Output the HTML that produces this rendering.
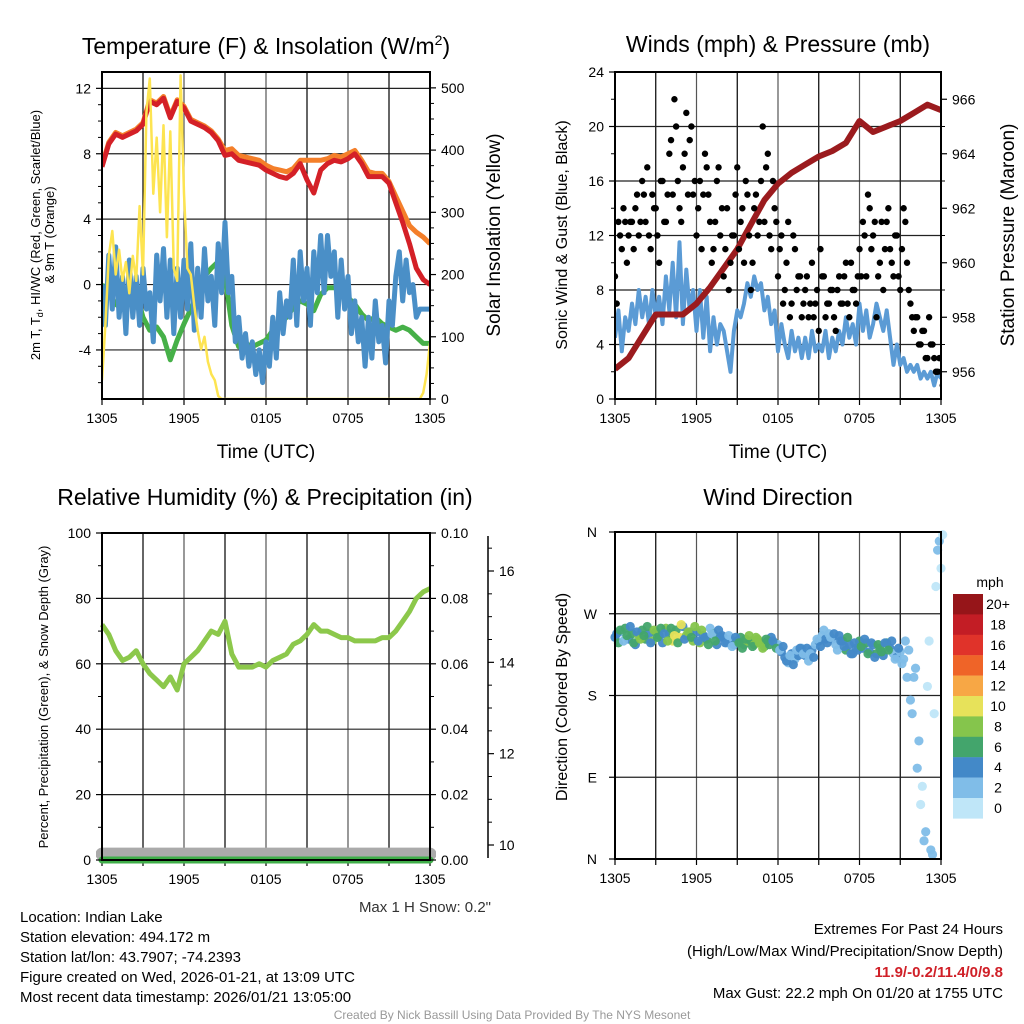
<!DOCTYPE html>
<html><head><meta charset="utf-8"><style>
body{margin:0;background:#fff;}
svg{display:block;font-family:"Liberation Sans",sans-serif;}
</style></head><body>
<svg id="s" width="1024" height="1024" viewBox="0 0 1024 1024" xmlns="http://www.w3.org/2000/svg">
<defs>
<clipPath id="c1"><rect x="102" y="72" width="328" height="327"/></clipPath>
<clipPath id="c2"><rect x="615" y="72" width="326" height="327"/></clipPath>
<clipPath id="c3"><rect x="96" y="533" width="340" height="335"/></clipPath>
<clipPath id="c4"><rect x="605" y="525" width="346" height="340"/></clipPath>
</defs>
<g id="g1"></g>
<g id="g2"></g>
<g id="g3"></g>
<g id="g4"></g>
<g font-size="23" text-anchor="middle">
<text x="266" y="54">Temperature (F) &amp; Insolation (W/m<tspan font-size="14" dy="-9">2</tspan><tspan dy="9">)</tspan></text>
<text x="778" y="52">Winds (mph) &amp; Pressure (mb)</text>
<text x="265" y="505">Relative Humidity (%) &amp; Precipitation (in)</text>
<text x="778" y="505">Wind Direction</text>
</g>
<g font-size="19" text-anchor="middle">
<text x="266" y="458">Time (UTC)</text>
<text x="778" y="458">Time (UTC)</text>
<text transform="translate(40,235) rotate(-90)" font-size="13">2m T, T<tspan font-size="9" dy="3">d</tspan><tspan dy="-3">, HI/WC (Red, Green, Scarlet/Blue)</tspan></text>
<text transform="translate(54,235) rotate(-90)" font-size="13">&amp; 9m T (Orange)</text>
<text transform="translate(500,235) rotate(-90)">Solar Insolation (Yellow)</text>
<text transform="translate(567,235) rotate(-90)" font-size="16">Sonic Wind &amp; Gust (Blue, Black)</text>
<text transform="translate(1014,235) rotate(-90)">Station Pressure (Maroon)</text>
<text transform="translate(48,697) rotate(-90)" font-size="13">Percent, Precipitation (Green), &amp; Snow Depth (Gray)</text>
<text transform="translate(567,697) rotate(-90)" font-size="16">Direction (Colored By Speed)</text>
</g>
<g font-size="15">
<text x="491" y="912" text-anchor="end" fill="#333">Max 1 H Snow: 0.2"</text>
<text x="20" y="922">Location: Indian Lake</text>
<text x="20" y="942">Station elevation: 494.172 m</text>
<text x="20" y="962">Station lat/lon: 43.7907; -74.2393</text>
<text x="20" y="982">Figure created on Wed, 2026-01-21, at 13:09 UTC</text>
<text x="20" y="1002">Most recent data timestamp: 2026/01/21 13:05:00</text>
<text x="1003" y="934" text-anchor="end">Extremes For Past 24 Hours</text>
<text x="1003" y="956" text-anchor="end">(High/Low/Max Wind/Precipitation/Snow Depth)</text>
<text x="1003" y="977" text-anchor="end" fill="#d02028" font-weight="bold">11.9/-0.2/11.4/0/9.8</text>
<text x="1003" y="998" text-anchor="end">Max Gust: 22.2 mph On 01/20 at 1755 UTC</text>
<text x="512" y="1019" text-anchor="middle" font-size="12" fill="#999">Created By Nick Bassill Using Data Provided By The NYS Mesonet</text>
</g>
</svg>
<script>
const xTickLabels = ["1305","1905","0105","0705","1305"];
// half-hourly (49 pts)
const tempRed = [7.2,8.6,9.2,9.0,9.2,9.4,9.8,11.2,11.0,11.4,10.2,11.2,10.8,10.0,9.8,9.6,9.3,8.8,7.9,8.0,7.6,7.5,7.4,7.3,7.0,6.8,6.6,6.5,6.8,7.4,6.4,5.6,7.0,7.4,7.6,7.5,7.7,8.0,7.4,6.6,6.6,6.6,6.2,5.0,3.8,2.5,1.0,0.3,0.0];
const tempOrange = [7.3,8.7,9.3,9.1,9.3,9.5,9.9,11.3,11.1,11.5,10.3,11.3,10.9,10.1,9.9,9.7,9.4,8.9,8.2,8.3,7.9,7.8,7.7,7.6,7.3,7.1,7.0,6.9,7.1,7.6,7.6,7.6,7.6,7.7,7.9,7.8,8.0,8.2,7.6,6.9,6.8,6.8,6.3,5.4,4.5,3.6,3.2,2.9,2.5];
const dewGreen = [0,-0.5,-1.2,-1.5,-1.0,-0.5,-2.0,-2.8,-2.6,-3.2,-4.6,-3.4,-2.4,-1.5,-0.5,0.5,1.0,1.4,0.5,-2.5,-3.8,-3.6,-3.8,-3.6,-3.4,-2.8,-2.4,-2.0,-1.4,-1.0,-1.2,-1.6,-0.6,-0.2,-0.2,-0.4,-0.8,-1.2,-1.8,-2.2,-2.0,-2.4,-2.6,-2.8,-2.6,-2.8,-3.2,-3.6,-3.6];
const rhValues = [72,69,64,61,62,64,60,57,55,53,56,52,60,62,64,67,70,69,73,63,59,59,59,60,59,61,62,63,66,67,69,72,70,70,69,68,68,67,67,67,67,68,68,70,73,76,80,82,83];
// quarter-hourly (97 pts)
const windChillBlue = [0.0,-2.5,1.8,-1.5,2.3,-2.0,0.5,-3.0, 1.5,-2.0,0.5,-2.5,1.0,-1.5,-0.5,-3.5, 1.8,-1.0,2.2,-2.0,1.5,-3.0,1.0,-2.0, 1.5,-1.5,2.5,-2.8,1.0,-2.0,2.2,-1.0, 0.5,-2.5,2.5,-0.5,3.8,-0.5,0.5,-3.5, -2.0,-4.5,-3.0,-5.0,-3.5,-5.5,-4.0,-6.0, -3.5,-5.0,-2.0,-4.5,-0.5,-3.0,-1.0,-2.0, 1.5,-2.5,2.0,-1.0,1.0,-2.5,2.0,-0.5, 3.0,-0.5,3.0,0.5,2.0,-2.0,1.5,-1.5, 0.5,-3.0,-1.0,-3.5,-2.0,-5.0,-2.0,-4.5, -1.0,-3.5,-2.5,-4.8,-1.0,-2.5,0.5,2.0, -1.0,1.5,-0.5,0.0,-2.0,-1.5,-1.5,-1.5,-1.5];
const insolation = [30,120,230,270,200,240,190,220, 170,230,190,310,200,460,515,330, 420,300,440,260,430,210,190,520, 330,210,200,150,110,80,100,60, 40,30,5,0,0,0,0,0, 0,0,0,0,0,0,0,0, 0,0,0,0,0,0,0,0, 0,0,0,0,0,0,0,0, 0,0,0,0,0,0,0,0, 0,0,0,0,0,0,0,0, 0,0,0,0,0,0,0,0, 0,0,0,0,0,0,10,40,90];
const windSpeed = [4.5,6.5,3.5,6.0,5.0,7.0,5.5,8.0, 6.0,7.5,5.5,8.0,6.0,7.5,5.5,9.0, 6.5,10.0,6.0,11.5,5.5,9.5,6.5,8.0, 5.0,8.0,4.5,7.5,3.5,6.0,4.0,5.5, 5.0,3.5,2.0,5.0,6.5,6.0,7.0,8.5, 7.5,9.0,8.0,8.5,6.5,7.5,5.5,6.5, 3.5,5.5,4.0,3.0,5.0,3.5,4.5,3.0, 4.5,3.0,5.0,3.5,4.0,3.5,5.0,3.0, 4.5,3.5,5.0,4.0,6.0,4.5,5.5,4.0, 7.0,5.0,6.5,4.5,5.5,7.0,6.0,5.0, 6.5,4.5,2.5,4.0,2.5,3.0,2.0,2.5, 2.0,2.5,1.5,2.0,1.5,2.0,1.0,2.0,1.5];
const windGust = [9,13,11,13,12,13,14,12, 16,13,12,15,14,10,16,13, 18,15,20,14,17,21,19,15, 12,16,15,17,13,11,16,12, 9,14,10,12,17,13,10,15, 8,14,12,16,13,18,11,14, 9,12,8,13,7,11,9,6, 8,6,10,7,5,9,6,7, 8,5,9,7,10,6,8,7, 11,13,9,14,12,6,10,8, 13,11,9,12,8,14,10,7, 5,6,4,5,3,4,3,2,2];
// second gust sample, offset 7.5 min
const windGustB = [7,12,14,10,13,11,15,13, 15,17,11,14,12,16,13,15, 19,22,16,13,18,15,20,16, 14,11,18,15,10,13,17,14, 11,8,12,15,11,14,16,12, 10,15,13,20,17,12,16,13, 11,7,10,6,12,8,9,7, 9,7,6,8,11,9,7,8, 6,8,7,9,7,10,8,9, 9,12,15,11,13,9,13,11, 14,10,12,9,11,13,8,6, 6,4,5,3,6,4,2,3,1];
const windDir = [244,238,250,254,242,248,236,246, 252,242,248,240,250,246,238,254, 248,240,252,244,256,246,250,240, 250,238,246,242,254,248,236,244, 244,238,242,236,240,244,236,240, 240,236,242,238,234,240,244,238, 236,228,222,216,226,220,224,232, 224,218,230,236,240,246,242,248, 242,236,246,240,230,236,226,232, 240,232,238,228,236,226,232,224, 238,232,226,222,228,220,200,175, 200,100,60,20,190,10,160,340,320];
const windDirB = [248,252,240,246,256,238,250,242, 246,256,238,252,244,254,248,240, 254,246,238,258,242,250,244,256, 240,252,244,236,248,240,252,246, 238,246,234,244,238,232,242,246, 234,244,238,232,242,236,240,232, 230,234,218,224,214,230,232,226, 232,226,222,242,234,252,238,244, 248,230,240,234,244,226,238,230, 234,242,226,238,222,236,228,238, 230,240,220,232,215,240,230,160, 210,130,80,30,240,5,300,350,357];
// hourly (25 pts)
const pressure = [956.1,956.5,957.3,958.1,958.1,958.1,958.5,959.1,959.8,960.5,961.4,962.3,962.9,963.3,963.6,963.9,964.1,964.4,965.2,964.8,965.0,965.2,965.5,965.8,965.6];
const snowDepth = [9.8,9.8,9.8,9.8,9.8,9.8,9.8,9.8,9.8,9.8,9.8,9.8,9.8,9.8,9.8,9.8,9.8,9.8,9.8,9.8,9.8,9.8,9.8,9.8,9.8];
const precip = [0,0,0,0,0,0,0,0,0,0,0,0,0,0,0,0,0,0,0,0,0,0,0,0,0];
const speedBins = ["0","2","4","6","8","10","12","14","16","18","20+"];
const speedColors = ["#bfe6f8","#80bde8","#4389c8","#43a56c","#85c54c","#e7e25a","#f7a745","#ef6428","#e0332a","#c31d25","#961519"];

const NS="http://www.w3.org/2000/svg";
function mk(parent,tag,attrs,name){const e=document.createElementNS(NS,tag);for(const k in attrs)e.setAttribute(k,attrs[k]);


parent.appendChild(e);return e;}
function lin(d0,d1,r0,r1){return v=>r0+(v-d0)*(r1-r0)/(d1-d0);}
function pathFrom(arr,step,xs,ys){return arr.map((v,i)=>(i?'L':'M')+xs(i*step).toFixed(1)+' '+ys(v).toFixed(1)).join(' ');}

function frame(g,x0,x1,y0,y1,gridY,name){
  const xs=lin(0,24,x0,x1);
  for(let h=3;h<24;h+=3){mk(g,'line',{x1:xs(h),x2:xs(h),y1:y0,y2:y1,stroke:(h%6?'#000':'#555'),'stroke-width':1.2},'grid-vertical');}
  gridY.forEach(y=>{mk(g,'line',{x1:x0,x2:x1,y1:y,y2:y,stroke:'#222','stroke-width':1.2},'grid-horizontal');});
  for(let h=0;h<=24;h+=3){mk(g,'line',{x1:xs(h),x2:xs(h),y1:y1,y2:y1+6,stroke:'#000','stroke-width':1.2},'x-tick');}
  xTickLabels.forEach((l,i)=>{const t=mk(g,'text',{x:xs(i*6),y:y1+24,'text-anchor':'middle','font-size':14},'x-tick-label');t.textContent=l;});
  return xs;
}
function border(g,x0,x1,y0,y1){mk(g,'rect',{x:x0,y:y0,width:x1-x0,height:y1-y0,fill:'none',stroke:'#000','stroke-width':2},'plot-border');}
function yTicks(g,x,side,vals,ys,fmt,len,minor){
  vals.forEach(v=>{const y=ys(v);mk(g,'line',{x1:x,x2:x+side*len,y1:y,y2:y,stroke:'#000','stroke-width':1.2},'y-tick');
    const t=mk(g,'text',{x:x+side*(len+5),y:y+5,'text-anchor':side<0?'end':'start','font-size':14},'y-tick-label');t.textContent=fmt(v);});
  if(minor) minor.forEach(v=>{const y=ys(v);mk(g,'line',{x1:x,x2:x+side*4,y1:y,y2:y,stroke:'#000','stroke-width':1},'y-minor-tick');});
}

// ---------- Panel 1
(function(){
  const g=document.getElementById('g1');
  const x0=102,x1=430,y0=72,y1=399;
  const yl=lin(-7,13,y1,y0), yr=lin(0,525.5,y1,y0);
  const xs=frame(g,x0,x1,y0,y1,[-4,0,4,8,12].map(yl));
  const p=mk(g,'g',{'clip-path':'url(#c1)'},'temperature-series');
  mk(p,'path',{d:pathFrom(tempOrange,0.5,xs,yl),fill:'none',stroke:'#f47f2a','stroke-width':5,'stroke-linejoin':'round'},'9m-temperature-line');
  mk(p,'path',{d:pathFrom(tempRed,0.5,xs,yl),fill:'none',stroke:'#d42027','stroke-width':5,'stroke-linejoin':'round'},'2m-temperature-line');
  mk(p,'path',{d:pathFrom(dewGreen,0.5,xs,yl),fill:'none',stroke:'#46b048','stroke-width':5,'stroke-linejoin':'round'},'dewpoint-line');
  mk(p,'path',{d:pathFrom(windChillBlue,0.25,xs,yl),fill:'none',stroke:'#4a8fc7','stroke-width':5,'stroke-linejoin':'round'},'wind-chill-line');
  mk(p,'path',{d:pathFrom(insolation,0.25,xs,yr),fill:'none',stroke:'#fde451','stroke-width':2.5,'stroke-linejoin':'round'},'insolation-line');
  border(g,x0,x1,y0,y1);
  yTicks(g,x0,-1,[-4,0,4,8,12],yl,v=>v,6,[-6,-5,-3,-2,-1,1,2,3,5,6,7,9,10,11]);
  yTicks(g,x1,1,[0,100,200,300,400,500],yr,v=>v,6,[25,50,75,125,150,175,225,250,275,325,350,375,425,450,475]);
})();

// ---------- Panel 2
(function(){
  const g=document.getElementById('g2');
  const x0=615,x1=941,y0=72,y1=399;
  const yl=lin(0,24,y1,y0), yr=lin(955,967,y1,y0);
  const xs=frame(g,x0,x1,y0,y1,[4,8,12,16,20].map(yl));
  const p=mk(g,'g',{'clip-path':'url(#c2)'},'wind-series');
  mk(p,'path',{d:pathFrom(windSpeed,0.25,xs,yl),fill:'none',stroke:'#5b9bd5','stroke-width':4,'stroke-linejoin':'round'},'wind-speed-line');
  mk(p,'path',{d:pathFrom(pressure,1,xs,yr),fill:'none',stroke:'#9b1b1e','stroke-width':6,'stroke-linejoin':'round'},'pressure-line');
  windGust.forEach((v,i)=>{mk(p,'circle',{cx:xs(i*0.25),cy:yl(v),r:3.2,fill:'#000'},'gust-dot');});
  windGustB.forEach((v,i)=>{mk(p,'circle',{cx:xs(i*0.25+0.125),cy:yl(v),r:3.2,fill:'#000'},'gust-dot');});
  border(g,x0,x1,y0,y1);
  yTicks(g,x0,-1,[0,4,8,12,16,20,24],yl,v=>v,6,[2,6,10,14,18,22]);
  yTicks(g,x1,1,[956,958,960,962,964,966],yr,v=>v,6,[957,959,961,963,965]);
})();

// ---------- Panel 3
(function(){
  const g=document.getElementById('g3');
  const x0=102,x1=430,y0=533,y1=860;
  const yl=lin(0,100,y1,y0), yr=lin(0,0.1,y1,y0), ys=lin(10,16,845,571);
  const xs=frame(g,x0,x1,y0,y1,[20,40,60,80].map(yl));
  const p=mk(g,'g',{'clip-path':'url(#c3)'},'humidity-series');
  mk(p,'path',{d:pathFrom(snowDepth,1,xs,ys),fill:'none',stroke:'#aaa','stroke-width':13,'stroke-linecap':'round'},'snow-depth-line');
  mk(p,'path',{d:pathFrom(precip,1,xs,yr),fill:'none',stroke:'#3fae49','stroke-width':7,'stroke-linecap':'round'},'precipitation-line');
  mk(p,'path',{d:pathFrom(rhValues,0.5,xs,yl),fill:'none',stroke:'#8cc84b','stroke-width':5,'stroke-linejoin':'round'},'humidity-line');
  border(g,x0,x1,y0,y1);
  yTicks(g,x0,-1,[0,20,40,60,80,100],yl,v=>v,6,[10,30,50,70,90]);
  yTicks(g,x1,1,[0,0.02,0.04,0.06,0.08,0.1],yr,v=>v.toFixed(2),6,[0.01,0.03,0.05,0.07,0.09]);
  mk(g,'line',{x1:488,x2:488,y1:536,y2:858,stroke:'#000','stroke-width':1.5},'snow-axis-line');
  yTicks(g,488,1,[10,12,14,16],ys,v=>v,6,[10.5,11,11.5,12.5,13,13.5,14.5,15,15.5,16.5]);
})();

// ---------- Panel 4
(function(){
  const g=document.getElementById('g4');
  const x0=615,x1=941,y0=532,y1=859;
  const yl=lin(0,360,y1,y0);
  const xs=frame(g,x0,x1,y0,y1,[90,180,270].map(yl));
  const p=mk(g,'g',{'clip-path':'url(#c4)'},'direction-series');
  function dot(t,d,s){const b=Math.min(10,Math.floor(s/2));
    mk(p,'circle',{cx:xs(t),cy:yl(d),r:4.6,fill:speedColors[b],opacity:0.95},'direction-dot');}
  windDir.forEach((d,i)=>dot(i*0.25,d,windSpeed[i]));
  windDirB.forEach((d,i)=>dot(i*0.25+0.125,d,windSpeed[i]));
  border(g,x0,x1,y0,y1);
  const labs=['N','E','S','W','N'];
  [0,90,180,270,360].forEach((v,i)=>{const y=yl(v);mk(g,'line',{x1:x0,x2:x0-6,y1:y,y2:y,stroke:'#000','stroke-width':1.2},'y-tick');
    const t=mk(g,'text',{x:x0-18,y:y+5,'text-anchor':'end','font-size':14},'y-tick-label');t.textContent=labs[i];});
  const cb=mk(g,'g',{},'speed-colorbar');
  const t0=mk(cb,'text',{x:990,y:587,'text-anchor':'middle','font-size':14},'colorbar-title');t0.textContent='mph';
  for(let k=0;k<speedBins.length;k++){const idx=speedBins.length-1-k;const y=594+k*20.4;
    mk(cb,'rect',{x:953,y:y,width:30,height:20.6,fill:speedColors[idx]},'colorbar-box');
    const t=mk(cb,'text',{x:998,y:y+15,'text-anchor':'middle','font-size':14},'colorbar-label');t.textContent=speedBins[idx];}
})();
</script>
</body></html>
